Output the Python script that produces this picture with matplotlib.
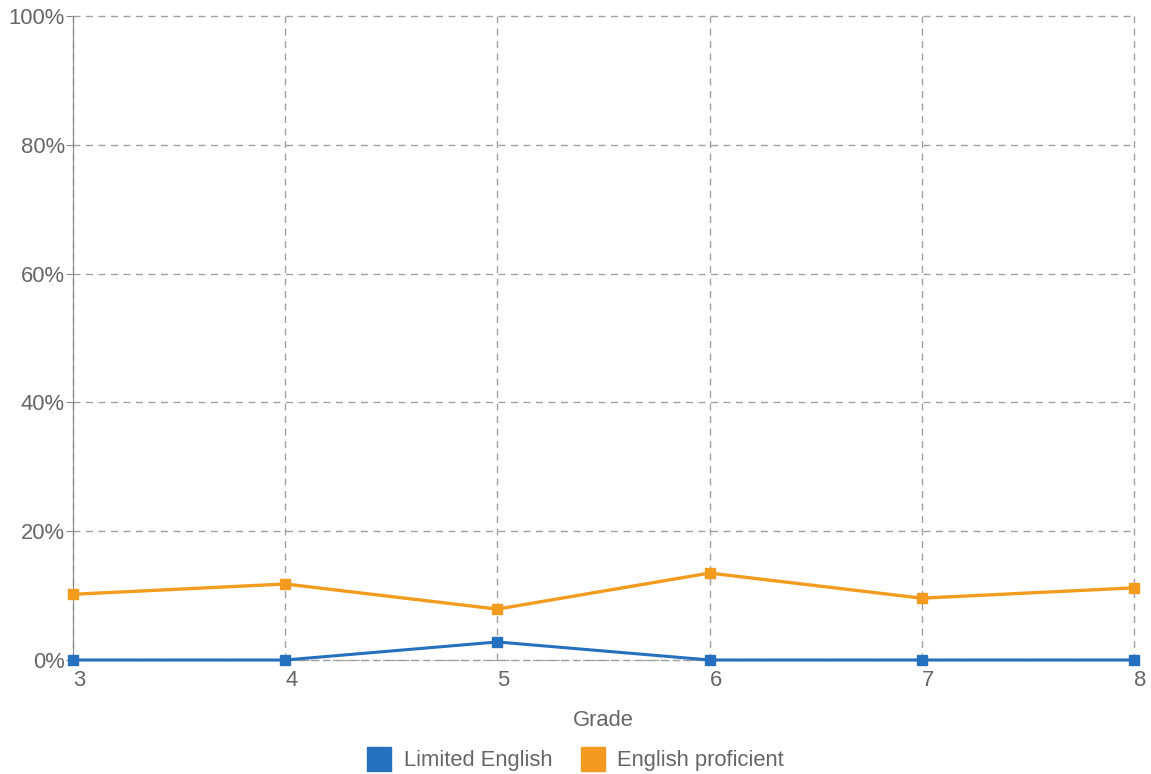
import matplotlib
matplotlib.use('Agg')
import matplotlib.pyplot as plt
from matplotlib.ticker import FuncFormatter
from matplotlib.lines import Line2D

# Données
grades = [3, 4, 5, 6, 7, 8]
limited_english = [0.0, 0.0, 2.8, 0.0, 0.0, 0.0]
english_proficient = [10.2, 11.8, 7.9, 13.5, 9.6, 11.2]
y_ticks = [0, 20, 40, 60, 80, 100]

BLUE = '#2570bf'
ORANGE = '#f39b1f'
GRAY = '#666666'
GRID = '#a0a0a0'
FS = 15.8

plt.rcParams['font.family'] = ['Liberation Sans', 'DejaVu Sans']

fig = plt.figure(figsize=(11.51, 7.74), dpi=100)
ax = fig.add_axes([0.0634, 0.1473, 0.9218, 0.832])

ax.plot(grades, english_proficient, color=ORANGE, lw=2.4, marker='s',
        markersize=7.5, zorder=3, clip_on=False)
ax.plot(grades, limited_english, color=BLUE, lw=2.2, marker='s',
        markersize=7.5, zorder=3, clip_on=False)

ax.set_xlim(3, 8)
ax.set_ylim(0, 100)
ax.set_xticks(grades)
ax.set_yticks(y_ticks)
ax.yaxis.set_major_formatter(FuncFormatter(lambda v, _: f'{v:.0f}%'))

ax.grid(True, color=GRID, linestyle=(0, (5, 4)), linewidth=1.0)
for gl in ax.get_xgridlines() + ax.get_ygridlines():
    gl.set_clip_on(False)
for side in ['top', 'right']:
    ax.spines[side].set_visible(False)
ax.spines['left'].set_color('#888888')
ax.spines['bottom'].set_color(GRID)
ax.spines['bottom'].set_linestyle((0, (5, 4)))

ax.tick_params(axis='y', colors='#888888', labelcolor=GRAY, labelsize=FS,
               length=5, pad=1)
ax.tick_params(axis='x', length=0, labelcolor=GRAY, labelsize=FS, pad=7)
for lab in ax.get_xticklabels():
    lab.set_horizontalalignment('left')

ax.set_xlabel('Grade', color=GRAY, fontsize=FS, labelpad=14)

handles = [
    Line2D([], [], color=BLUE, marker='s', linestyle='none', markersize=17),
    Line2D([], [], color=ORANGE, marker='s', linestyle='none', markersize=17),
]
leg = fig.legend(handles, ['Limited English', 'English proficient'],
                 loc='center', bbox_to_anchor=(0.5, 0.017), ncol=2,
                 frameon=False, fontsize=FS, handletextpad=0.55,
                 columnspacing=1.3, handlelength=1.1)
for t in leg.get_texts():
    t.set_color(GRAY)

fig.savefig('out.png', dpi=100)
